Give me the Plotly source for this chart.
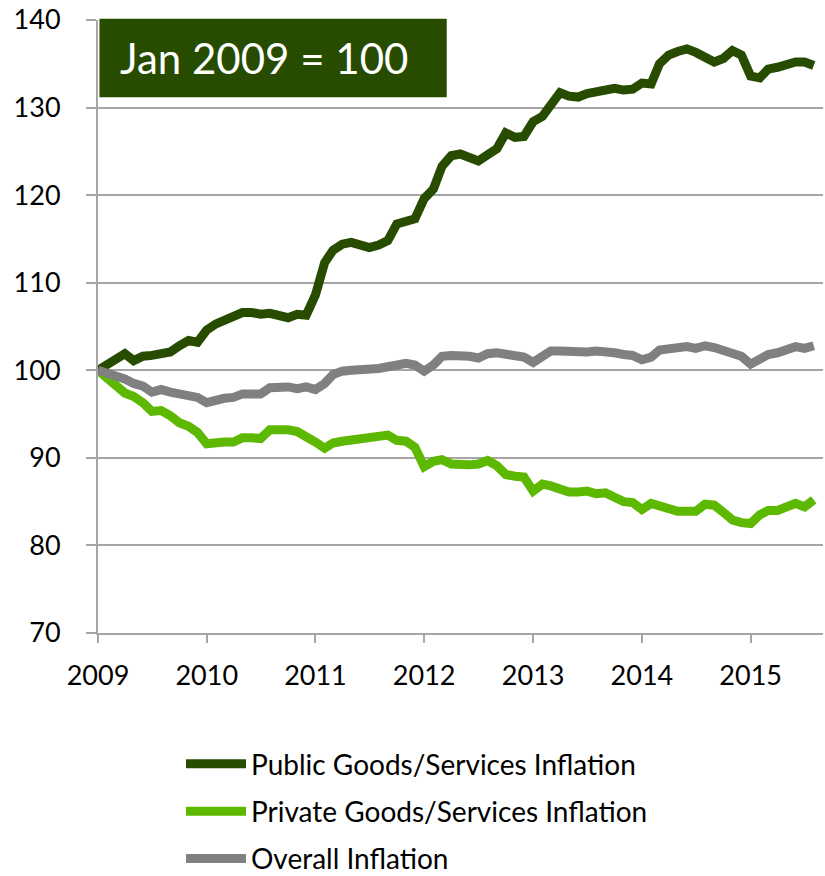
import pandas as pd
import plotly.graph_objects as go

# Monthly index values, Jan 2009 = 100
months = pd.date_range("2009-01-01", periods=80, freq="MS")

public = [
    100.0, 100.6, 101.1, 101.9, 101.1, 101.6, 101.7, 102.0, 102.1, 102.8,
    103.4, 103.2, 104.6, 105.3, 105.7, 106.1, 106.6, 106.6, 106.4, 106.5,
    106.3, 106.0, 106.4, 106.3, 108.6, 112.3, 113.7, 114.4, 114.6, 114.3,
    114.0, 114.3, 114.8, 116.7, 116.9, 117.3, 119.6, 120.7, 123.3, 124.5,
    124.7, 124.3, 123.9, 124.6, 125.3, 127.1, 126.6, 126.7, 128.4, 129.0,
    130.5, 131.7, 131.3, 131.2, 131.6, 131.8, 131.9, 132.2, 132.0, 132.1,
    132.8, 132.7, 135.0, 136.0, 136.4, 136.7, 136.3, 135.6, 135.2, 135.6,
    136.5, 136.0, 133.6, 133.4, 134.4, 134.6, 135.0, 135.2, 135.2, 134.8,
]

private = [
    100.0, 99.1, 98.6, 97.4, 97.0, 96.3, 95.3, 95.4, 94.8, 94.0,
    93.6, 92.9, 91.6, 91.8, 91.8, 91.8, 92.3, 92.3, 92.2, 93.2,
    93.3, 93.2, 93.0, 92.5, 91.8, 91.1, 91.7, 91.9, 92.0, 92.1,
    92.2, 92.3, 92.6, 92.0, 91.9, 91.2, 89.0, 89.6, 89.8, 89.3,
    89.2, 89.2, 89.3, 89.7, 89.1, 88.1, 87.9, 87.8, 86.2, 87.0,
    86.8, 86.3, 86.1, 86.1, 86.2, 85.9, 86.0, 85.5, 85.0, 84.9,
    84.1, 84.8, 84.5, 84.1, 83.9, 83.9, 83.9, 84.7, 84.6, 83.8,
    82.9, 82.6, 82.5, 83.5, 84.0, 84.0, 84.3, 84.8, 84.4, 85.2,
]

overall = [
    100.0, 99.7, 99.4, 99.0, 98.5, 98.2, 97.5, 97.8, 97.5, 97.3,
    97.1, 96.9, 96.3, 96.6, 96.8, 96.9, 97.3, 97.3, 97.3, 98.0,
    98.1, 98.1, 97.9, 98.1, 97.8, 98.5, 99.5, 99.9, 100.0, 100.0,
    100.0, 100.2, 100.4, 100.7, 100.8, 100.6, 99.9, 100.6, 101.6, 101.7,
    101.7, 101.6, 101.4, 101.9, 102.0, 101.9, 101.6, 101.5, 100.9, 101.6,
    102.2, 102.2, 102.1, 102.2, 102.1, 102.2, 102.2, 102.0, 101.8, 101.7,
    101.2, 101.5, 102.3, 102.5, 102.6, 102.7, 102.5, 102.8, 102.6, 102.3,
    101.9, 101.6, 100.7, 101.3, 101.8, 102.0, 102.4, 102.7, 102.5, 102.8,
]

series_names = [
    "Public Goods/Services Inflation",
    "Private Goods/Services Inflation",
    "Overall Inflation",
]
series_colors = ["#274c00", "#5cb800", "#808080"]

year_ticks = ["2009", "2010", "2011", "2012", "2013", "2014", "2015"]
y_ticks = [70, 80, 90, 100, 110, 120, 130, 140]

FONT = "Lato"
GRID = "#a6a6a6"

fig = go.Figure()
for name, values, color in zip(series_names, [public, private, overall], series_colors):
    fig.add_trace(go.Scatter(
        x=months, y=values, mode="lines", name=name,
        legendgroup=name,
        line=dict(color=color, width=9),
    ))

fig.update_layout(
    width=825, height=876,
    margin=dict(l=98, r=2, t=20, b=243, autoexpand=False),
    paper_bgcolor="white", plot_bgcolor="white",
    font=dict(family=FONT, size=27, color="black"),
    showlegend=True,
    legend=dict(
        orientation="v", x=0.1145, xanchor="left", y=-0.173, yanchor="top",
        font=dict(family=FONT, size=28, color="black"),
        tracegroupgap=8, itemwidth=60,
        bgcolor="rgba(0,0,0,0)",
    ),
    xaxis=dict(
        type="date",
        range=["2009-01-01", "2015-09-01"],
        tickvals=[f"{y}-01-01" for y in year_ticks],
        ticktext=year_ticks,
        showgrid=False, zeroline=False,
        showline=True, linecolor=GRID, linewidth=2,
        ticks="outside", ticklen=8, tickwidth=2, tickcolor=GRID,
        ticklabelstandoff=10,
        tickfont=dict(family=FONT, size=27),
    ),
    yaxis=dict(
        range=[70, 140],
        tickvals=y_ticks,
        showgrid=True, gridcolor=GRID, gridwidth=2,
        zeroline=False,
        showline=True, linecolor=GRID, linewidth=2,
        ticks="outside", ticklen=10, tickwidth=2, tickcolor=GRID,
        ticklabelstandoff=20,
        tickfont=dict(family=FONT, size=27),
    ),
)

# Base-period label box in the upper left corner
fig.add_shape(
    type="rect", xref="paper", yref="paper",
    x0=0.002, x1=0.481, y0=0.874, y1=1.002,
    fillcolor="#274c00", line=dict(width=0), layer="above",
)
fig.add_annotation(
    xref="paper", yref="paper", x=0.027, y=0.938,
    xanchor="left", yanchor="middle", showarrow=False,
    text="Jan 2009 = 100",
    font=dict(family=FONT, size=42, color="white"),
)

fig.write_html("out.html")
